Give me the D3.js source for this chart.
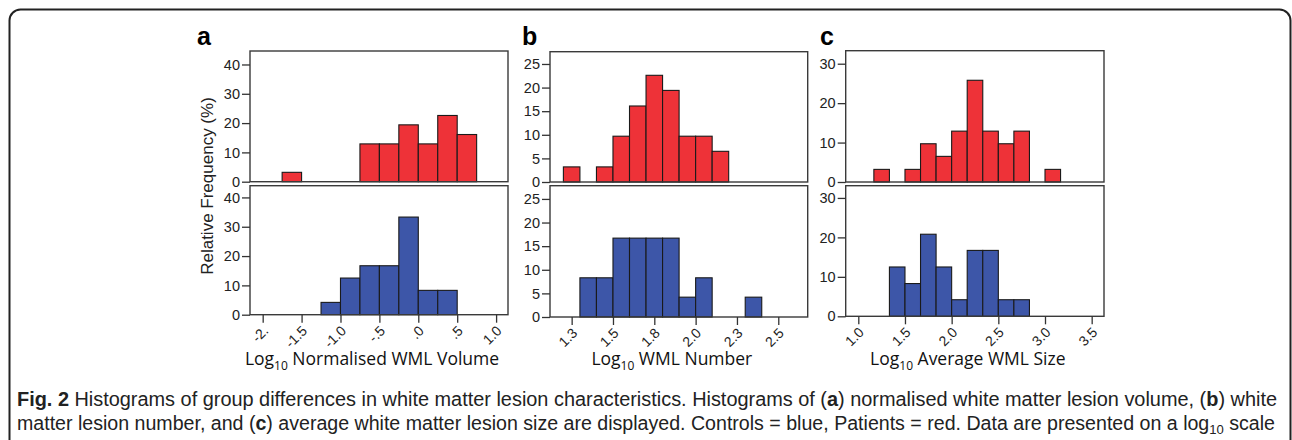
<!DOCTYPE html>
<html><head><meta charset="utf-8">
<script src="https://cdn.jsdelivr.net/npm/d3@7"></script>
<style>body{margin:0;background:#fff} svg{display:block}</style>
</head><body><svg id="c" width="1292" height="440"></svg>
<script>
// ---------- data ----------
const panelLetters = ["a", "b", "c"];
const xTitles = ["Normalised WML Volume", "WML Number", "Average WML Size"];
const yTitle = "Relative Frequency (%)";
const binWidths = [0.25, 0.1, 1 / 6];

// panel a (log10 normalised WML volume)
const aPatientsStart = [-1.75, -0.75, -0.5, -0.25, 0, 0.25, 0.5];
const aPatientsPct   = [3.2, 12.9, 12.9, 19.4, 12.9, 22.6, 16.1];
const aControlsStart = [-1.25, -1.0, -0.75, -0.5, -0.25, 0, 0.25];
const aControlsPct   = [4.2, 12.5, 16.7, 16.7, 33.3, 8.3, 8.3];
const aXTicks = [-2, -1.5, -1, -0.5, 0, 0.5, 1];
const aXLabels = ["-2.", "-1.5", "-1.0", "-.5", ".0", ".5", "1.0"];
const aYTicks = [0, 10, 20, 30, 40];

// panel b (log10 WML number)
const bPatientsStart = [1.2, 1.4, 1.5, 1.6, 1.7, 1.8, 1.9, 2.0, 2.1];
const bPatientsPct   = [3.2, 3.2, 9.7, 16.1, 22.6, 19.4, 9.7, 9.7, 6.5];
const bControlsStart = [1.3, 1.4, 1.5, 1.6, 1.7, 1.8, 1.9, 2.0, 2.3];
const bControlsPct   = [8.3, 8.3, 16.7, 16.7, 16.7, 16.7, 4.2, 8.3, 4.2];
const bXTicks = [1.25, 1.5, 1.75, 2.0, 2.25, 2.5];
const bXLabels = ["1.3", "1.5", "1.8", "2.0", "2.3", "2.5"];
const bYTicks = [0, 5, 10, 15, 20, 25];

// panel c (log10 average WML size)
const cPatientsStart = [7 / 6, 9 / 6, 10 / 6, 11 / 6, 12 / 6, 13 / 6, 14 / 6, 15 / 6, 16 / 6, 18 / 6];
const cPatientsPct   = [3.2, 3.2, 9.7, 6.5, 12.9, 25.8, 12.9, 9.7, 12.9, 3.2];
const cControlsStart = [8 / 6, 9 / 6, 10 / 6, 11 / 6, 12 / 6, 13 / 6, 14 / 6, 15 / 6, 16 / 6];
const cControlsPct   = [12.5, 8.3, 20.8, 12.5, 4.2, 16.7, 16.7, 4.2, 4.2];
const cXTicks = [1.0, 1.5, 2.0, 2.5, 3.0, 3.5];
const cXLabels = ["1.0", "1.5", "2.0", "2.5", "3.0", "3.5"];
const cYTicks = [0, 10, 20, 30];

// ---------- layout ----------
const RED = "#ee3238", BLUE = "#3d56a8";
const panels = [
  { x0: 250, x1: 508, top: [51, 181.7], bot: [185.7, 314.7], xDom: [-2.163, 1.153], yMax: [44.6, 44.0],
    pS: aPatientsStart, pV: aPatientsPct, cS: aControlsStart, cV: aControlsPct, xt: aXTicks, xl: aXLabels, yt: aYTicks, lx: 197 },
  { x0: 550, x1: 807.7, top: [51.7, 182], bot: [185.7, 317], xDom: [1.119, 2.678], yMax: [27.6, 27.8],
    pS: bPatientsStart, pV: bPatientsPct, cS: bControlsStart, cV: bControlsPct, xt: bXTicks, xl: bXLabels, yt: bYTicks, lx: 522 },
  { x0: 845.7, x1: 1104, top: [50.7, 182], bot: [185.7, 316.3], xDom: [0.865, 3.632], yMax: [33.3, 33.1],
    pS: cPatientsStart, pV: cPatientsPct, cS: cControlsStart, cV: cControlsPct, xt: cXTicks, xl: cXLabels, yt: cYTicks, lx: 820 }
];

const svg = d3.select("#c");
const TICKFONT = "'Liberation Sans', Arial, sans-serif";

// outer rounded frame
svg.append("rect").attr("x", 9.5).attr("y", 9.5).attr("width", 1281).attr("height", 480)
  .attr("rx", 11).attr("fill", "none").attr("stroke", "#222").attr("stroke-width", 2);

panels.forEach((p, i) => {
  const x = d3.scaleLinear().domain(p.xDom).range([p.x0, p.x1]);
  const bw = binWidths[i];
  const rows = [
    { yr: p.top, ymax: p.yMax[0], s: p.pS, v: p.pV, col: RED },
    { yr: p.bot, ymax: p.yMax[1], s: p.cS, v: p.cV, col: BLUE }
  ];
  rows.forEach((r, ri) => {
    const y = d3.scaleLinear().domain([0, r.ymax]).range([r.yr[1], r.yr[0]]);
    const g = svg.append("g");
    g.append("rect").attr("x", p.x0).attr("y", r.yr[0]).attr("width", p.x1 - p.x0).attr("height", r.yr[1] - r.yr[0])
      .attr("fill", "#fff");
    g.selectAll("rect.bar").data(r.s.map((s, k) => ({ s, v: r.v[k] }))).join("rect")
      .attr("class", "bar")
      .attr("x", d => x(d.s)).attr("width", d => x(d.s + bw) - x(d.s))
      .attr("y", d => y(d.v)).attr("height", d => y(0) - y(d.v))
      .attr("fill", r.col).attr("stroke", "#1a1a1a").attr("stroke-width", 1.1);
    g.append("rect").attr("x", p.x0).attr("y", r.yr[0]).attr("width", p.x1 - p.x0).attr("height", r.yr[1] - r.yr[0])
      .attr("fill", "none").attr("stroke", "#3a3a3a").attr("stroke-width", 1.4);
    // y axis
    const ya = svg.append("g").attr("transform", `translate(${p.x0},0)`)
      .call(d3.axisLeft(y).tickValues(p.yt).tickSize(8).tickSizeOuter(0).tickPadding(2));
    ya.select(".domain").remove();
    ya.selectAll("line").attr("stroke", "#333").attr("stroke-width", 1.3);
    ya.selectAll("text").attr("font-family", TICKFONT).attr("font-size", 14.5).attr("fill", "#222");
    ya.attr("font-size", null).attr("font-family", null);
    if (ri === 1) {
      const xa = svg.append("g").attr("transform", `translate(0,${r.yr[1]})`)
        .call(d3.axisBottom(x).tickValues(p.xt).tickFormat((d, k) => p.xl[k]).tickSize(8).tickSizeOuter(0));
      xa.select(".domain").remove();
      xa.selectAll("line").attr("stroke", "#333").attr("stroke-width", 1.3);
      xa.selectAll("text").attr("font-family", TICKFONT).attr("font-size", 14).attr("fill", "#222")
        .attr("x", null).attr("y", null).attr("dy", null)
        .attr("text-anchor", "end")
        .attr("transform", "translate(6,17) rotate(-45)");
      xa.attr("font-size", null).attr("font-family", null);
      // x title
      const cx = (p.x0 + p.x1) / 2 - 7;
      const t = svg.append("text").attr("x", cx).attr("y", 365).attr("text-anchor", "middle")
        .attr("font-family", "'Open Sans', Lato, sans-serif").attr("font-size", 17.5).attr("fill", "#111");
      t.append("tspan").text("Log");
      t.append("tspan").attr("dy", 5).attr("font-size", 12).text("10");
      t.append("tspan").attr("dy", -5).text(" " + xTitles[i]);
    }
  });
  // panel letter
  svg.append("text").attr("x", p.lx).attr("y", 45).attr("font-family", TICKFONT)
    .attr("font-weight", "bold").attr("font-size", 25).attr("fill", "#000").text(panelLetters[i]);
});

// y title
svg.append("text").attr("transform", "translate(207,186) rotate(-90)").attr("text-anchor", "middle")
  .attr("dominant-baseline", "central").attr("font-family", TICKFONT).attr("font-size", 17).attr("fill", "#222")
  .text(yTitle);

// caption
const capFont = "'Liberation Sans Narrow', 'Liberation Sans', Arial, sans-serif";
const cap1 = [["Fig. 2", true], [" Histograms of group differences in white matter lesion characteristics. Histograms of (", false],
  ["a", true], [") normalised white matter lesion volume, (", false], ["b", true], [") white", false]];
const cap2 = [["matter lesion number, and (", false], ["c", true],
  [") average white matter lesion size are displayed. Controls = blue, Patients = red. Data are presented on a log", false]];
function capLine(parts, yb, len, extra) {
  const t = svg.append("text").attr("x", 17).attr("y", yb).attr("font-family", capFont).attr("font-size", 19.5)
    .attr("fill", "#222").attr("textLength", len).attr("lengthAdjust", "spacingAndGlyphs");
  parts.forEach(([s, b]) => t.append("tspan").attr("font-weight", b ? "bold" : null).text(s));
  if (extra) extra(t);
}
capLine(cap1, 406, 1260);
capLine(cap2, 430, 1258, t => {
  t.append("tspan").attr("dy", 4).attr("font-size", 13).text("10");
  t.append("tspan").attr("dy", -4).text(" scale");
});
</script></body></html>
